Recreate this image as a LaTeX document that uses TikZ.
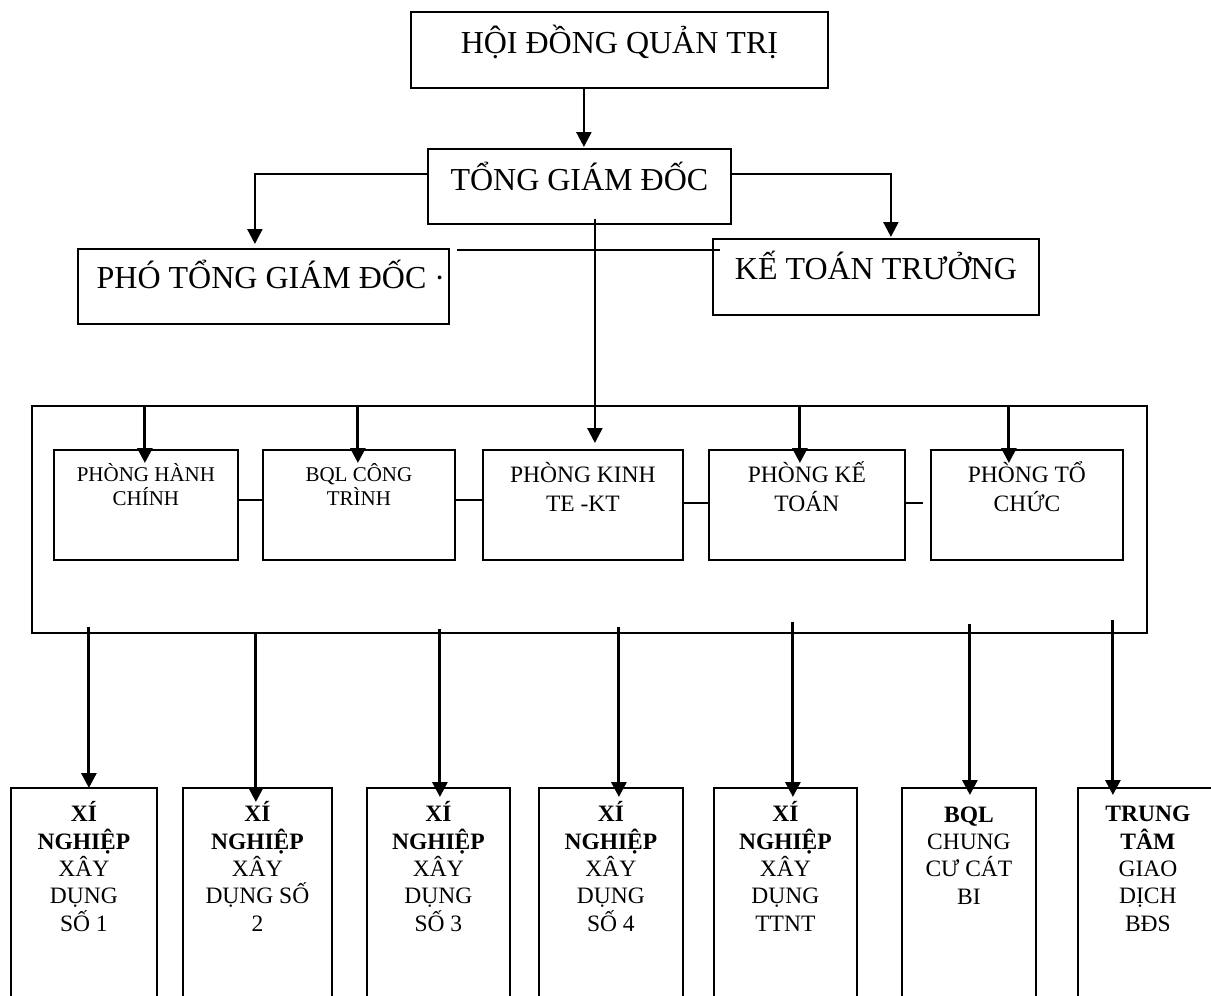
\documentclass[tikz,border=0pt]{standalone}
\usepackage{fontspec}
\setmainfont{Liberation Serif}
\usetikzlibrary{arrows.meta, positioning}
\tikzstyle{box} = [rectangle, draw=black, line width=1.8pt, anchor=north west, inner sep=0pt]
\tikzstyle{toptext} = [font=\fontsize{32}{38}\selectfont, anchor=base, inner sep=0pt]
\tikzstyle{smalltext} = [font=\fontsize{21}{24}\selectfont, align=center, anchor=base, inner sep=0pt]
\tikzstyle{depttext} = [font=\fontsize{23.5}{29}\selectfont, align=center, anchor=base, inner sep=0pt]
\tikzstyle{unittext} = [font=\fontsize{23.5}{27.3}\selectfont, align=center, anchor=base, inner sep=0pt]
\tikzstyle{arrow} = [line width=3pt, -{Triangle[length=15pt,width=15pt]}]
\tikzstyle{link} = [line width=2.2pt]

\begin{document}
\begin{tikzpicture}[x=1pt, y=-1pt]
\useasboundingbox (0,0) rectangle (1211,996);

% Management
\node (hdqt) [box, minimum width=417, minimum height=76] at (410,11) {};
\node (tgd) [box, minimum width=303, minimum height=75] at (427,148) {};
\node (ptgd) [box, minimum width=371, minimum height=75] at (77,248) {};
\node (ktt) [box, minimum width=326, minimum height=76] at (712,238) {};

\node (hdqt-t) [toptext] at ([yshift=-42pt]hdqt.north) {HỘI ĐỒNG QUẢN TRỊ};
\node (tgd-t) [toptext] at ([yshift=-42pt]tgd.north) {TỔNG GIÁM ĐỐC};
\node (ptgd-t) [toptext] at ([xshift=7.5pt,yshift=-40pt]ptgd.north) {PHÓ TỔNG GIÁM ĐỐC ·};
\node (ktt-t) [toptext] at ([yshift=-41pt]ktt.north) {KẾ TOÁN TRƯỞNG};

% Departments (base = last line)
\node (khoi) [box, minimum width=1115, minimum height=227] at (31,405) {};
\node (hc) [box, minimum width=184, minimum height=110] at (53,449) {};
\node (bql) [box, minimum width=192, minimum height=110] at (262,449) {};
\node (kinh) [box, minimum width=200, minimum height=110] at (482,449) {};
\node (ktoan) [box, minimum width=196, minimum height=110] at (708,449) {};
\node (tc) [box, minimum width=192, minimum height=110] at (930,449) {};

\node (hc-t) [smalltext] at ([yshift=-56pt]hc.north) {PHÒNG HÀNH\\CHÍNH};
\node (bql-t) [smalltext] at ([yshift=-56pt]bql.north) {BQL CÔNG\\TRÌNH};
\node (kinh-t) [depttext] at ([yshift=-62pt]kinh.north) {PHÒNG KINH\\TE -KT};
\node (ktoan-t) [depttext] at ([yshift=-62pt]ktoan.north) {PHÒNG KẾ\\TOÁN};
\node (tc-t) [depttext] at ([yshift=-62pt]tc.north) {PHÒNG TỔ\\CHỨC};

% Units
\node (xn1) [box, minimum width=146, minimum height=220] at (10,787) {};
\node (xn2) [box, minimum width=149, minimum height=220] at (182,787) {};
\node (xn3) [box, minimum width=143, minimum height=220] at (366,787) {};
\node (xn4) [box, minimum width=144, minimum height=220] at (538,787) {};
\node (xn5) [box, minimum width=143, minimum height=220] at (713,787) {};
\node (cc) [box, minimum width=134, minimum height=220] at (901,787) {};
\node (gd) [box, minimum width=140, minimum height=220] at (1077,787) {};

\node (xn1-t) [unittext] at ([yshift=-144pt]xn1.north) {\textbf{XÍ}\\\textbf{NGHIỆP}\\XÂY\\DỤNG\\SỐ 1};
\node (xn2-t) [unittext] at ([yshift=-144pt]xn2.north) {\textbf{XÍ}\\\textbf{NGHIỆP}\\XÂY\\DỤNG SỐ\\2};
\node (xn3-t) [unittext] at ([yshift=-144pt]xn3.north) {\textbf{XÍ}\\\textbf{NGHIỆP}\\XÂY\\DỤNG\\SỐ 3};
\node (xn4-t) [unittext] at ([yshift=-144pt]xn4.north) {\textbf{XÍ}\\\textbf{NGHIỆP}\\XÂY\\DỤNG\\SỐ 4};
\node (xn5-t) [unittext] at ([yshift=-144pt]xn5.north) {\textbf{XÍ}\\\textbf{NGHIỆP}\\XÂY\\DỤNG\\TTNT};
\node (cc-t) [unittext] at ([yshift=-117pt]cc.north) {\textbf{BQL}\\CHUNG\\CƯ CÁT\\BI};
\node (gd-t) [unittext] at ([yshift=-144pt]gd.north) {\textbf{TRUNG}\\\textbf{TÂM}\\GIAO\\DỊCH\\BĐS};

% Top arrows
\coordinate (tgd-in) at ([xshift=4.5pt,yshift=1pt]tgd.north);
\draw [arrow, line width=2.4pt] (tgd-in |- hdqt.south) -- (tgd-in);
\draw [arrow, line width=2.4pt] ([yshift=12.5pt]tgd.west) -| ([xshift=-8.5pt,yshift=4pt]ptgd.north);
\draw [arrow, line width=2.4pt] ([yshift=12.5pt]tgd.east) -| ([xshift=15pt,yshift=1pt]ktt.north);
\coordinate (ptgd-gap) at ([xshift=7pt,yshift=-2pt]ptgd.north east);
\draw [link] (ptgd-gap) -- ([xshift=8pt]ptgd-gap -| ktt.west);
\coordinate (tgd-out) at ([xshift=15.5pt,yshift=6pt]tgd.south);
\draw [arrow, line width=2.4pt] (tgd-out) -- ([yshift=6pt]tgd-out |- kinh.north);

% Department arrows and links
\foreach \d/\dx in {hc/-1, bql/-1, ktoan/-7, tc/-18}
  \draw [arrow] ([xshift=\dx pt]\d.north |- khoi.north) -- ([xshift=\dx pt,yshift=-14pt]\d.north);
\draw [link] ([yshift=5pt]hc.east) -- ([yshift=5pt]bql.west);
\draw [link] ([yshift=5pt]bql.east) -- ([yshift=5pt]kinh.west);
\draw [link] ([yshift=2pt]kinh.east) -- ([yshift=2pt]ktoan.west);
\coordinate (ktoan-stub) at ([xshift=17pt,yshift=2pt]ktoan.east);
\draw [link] ([yshift=2pt]ktoan.east) -- (ktoan-stub);

% Unit arrows
\foreach \u/\dx/\up/\dn in {xn1/5/7/1, xn2/-1.5/0/15, xn3/1.5/5/10, xn4/8/7/10, xn5/7.5/12/10, cc/1/10/8, gd/-35/14/8}
{
  \coordinate (in-\u) at ([xshift=\dx pt]\u.north);
  \draw [arrow] ([yshift=\up pt]in-\u |- khoi.south) -- ([yshift=-\dn pt]in-\u);
}

\end{tikzpicture}
\end{document}
